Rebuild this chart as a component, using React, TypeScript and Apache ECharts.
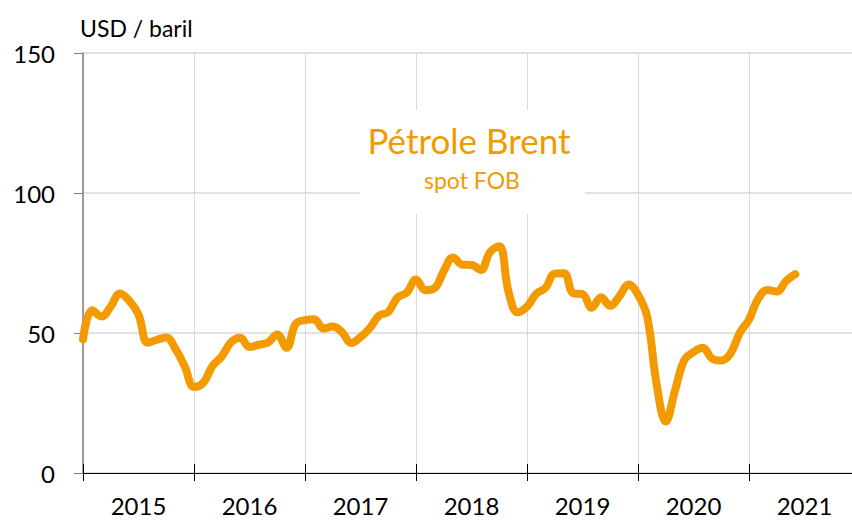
import React, { useEffect, useRef } from "react";
import * as echarts from "echarts";

const years = ["2015", "2016", "2017", "2018", "2019", "2020", "2021"];
const yTicks = [0, 50, 100, 150];
// Monthly Brent spot FOB, USD / barrel, Jan 2015 .. Jun 2021
const brent2015 = [47.8, 58.1, 55.9, 59.5, 64.1, 61.5, 56.6, 46.5, 47.6, 48.4, 44.3, 38.0];
const brent2016 = [30.7, 32.2, 38.2, 41.6, 46.7, 48.3, 45.0, 45.8, 46.6, 49.5, 44.7, 53.3];
const brent2017 = [54.6, 54.9, 51.6, 52.3, 50.3, 46.4, 48.5, 51.7, 56.2, 57.5, 62.7, 64.4];
const brent2018 = [69.1, 65.3, 66.0, 72.1, 77.0, 74.4, 74.3, 72.5, 78.9, 81.0, 64.8, 57.4];
const brent2019 = [59.4, 64.0, 66.1, 71.2, 71.3, 64.2, 63.9, 59.0, 62.8, 59.7, 63.2, 67.3];
const brent2020 = [63.7, 55.7, 32.0, 18.4, 29.4, 40.3, 43.2, 44.7, 40.9, 40.2, 42.7, 50.0];
const brent2021 = [54.8, 62.3, 65.4, 64.8, 68.5, 71.0];
const brent = [...brent2015, ...brent2016, ...brent2017, ...brent2018, ...brent2019, ...brent2020, ...brent2021];

const ORANGE = "#F39A00";
const FONT = "Lato";

export default function App() {
  const ref = useRef<HTMLDivElement>(null);
  useEffect(() => {
    if (!ref.current) return;
    const chart = echarts.init(ref.current, undefined, { renderer: "svg" });
    chart.setOption({
      animation: false,
      backgroundColor: "#ffffff",
      grid: {
        left: 83,
        top: 53,
        width: 777,
        height: 420,
        containLabel: false,
        outerBoundsMode: "none",
      },
      xAxis: [
        {
          type: "value",
          min: 0,
          max: 84,
          interval: 12,
          position: "bottom",
          axisLine: { show: true, onZero: false, lineStyle: { color: "#000000", width: 1 } },
          axisTick: { show: true, inside: false, length: 8, lineStyle: { color: "#000000", width: 1 } },
          axisLabel: { show: false },
          splitLine: { show: true, lineStyle: { color: "#d9d9d9", width: 1 } },
        },
        {
          type: "category",
          data: years,
          boundaryGap: true,
          position: "bottom",
          axisLine: { show: false },
          axisTick: { show: true, inside: true, length: 9, lineStyle: { color: "#000000", width: 1 } },
          axisLabel: { show: true, fontSize: 24, fontFamily: FONT, color: "#000000", margin: 20 },
          splitLine: { show: false },
        },
      ],
      yAxis: {
        type: "value",
        min: yTicks[0],
        max: yTicks[yTicks.length - 1],
        interval: 50,
        axisLine: { show: true, lineStyle: { color: "#808080", width: 1.5 } },
        axisTick: { show: true, inside: false, length: 9, lineStyle: { color: "#808080", width: 1 } },
        axisLabel: { fontSize: 24, fontFamily: FONT, color: "#000000", margin: 28 },
        splitLine: { show: true, lineStyle: { color: "#d9d9d9", width: 1.5 } },
      },
      graphic: [
        {
          type: "rect",
          z: 1,
          shape: { x: 360, y: 110, width: 225, height: 104 },
          style: { fill: "#ffffff" },
        },
        {
          type: "text",
          z: 2,
          x: 469,
          y: 140,
          style: {
            text: "Pétrole Brent",
            fill: ORANGE,
            font: `35px ${FONT}`,
            align: "center",
            verticalAlign: "middle",
          },
        },
        {
          type: "text",
          z: 2,
          x: 472,
          y: 180,
          style: {
            text: "spot FOB",
            fill: ORANGE,
            font: `23px ${FONT}`,
            align: "center",
            verticalAlign: "middle",
          },
        },
        {
          type: "text",
          z: 2,
          x: 80,
          y: 28,
          style: {
            text: "USD / baril",
            fill: "#000000",
            font: `23px ${FONT}`,
            align: "left",
            verticalAlign: "middle",
          },
        },
      ],
      series: [
        {
          type: "line",
          xAxisIndex: 0,
          data: brent.map((v, i) => [i, v]),
          smooth: 0.4,
          showSymbol: false,
          lineStyle: { color: ORANGE, width: 8, cap: "round", join: "round" },
          z: 3,
        },
      ],
    });
    return () => chart.dispose();
  }, []);
  return (
    <div
      ref={ref}
      style={{ position: "fixed", left: 0, top: 0, width: 852, height: 522, background: "#fff" }}
    />
  );
}
